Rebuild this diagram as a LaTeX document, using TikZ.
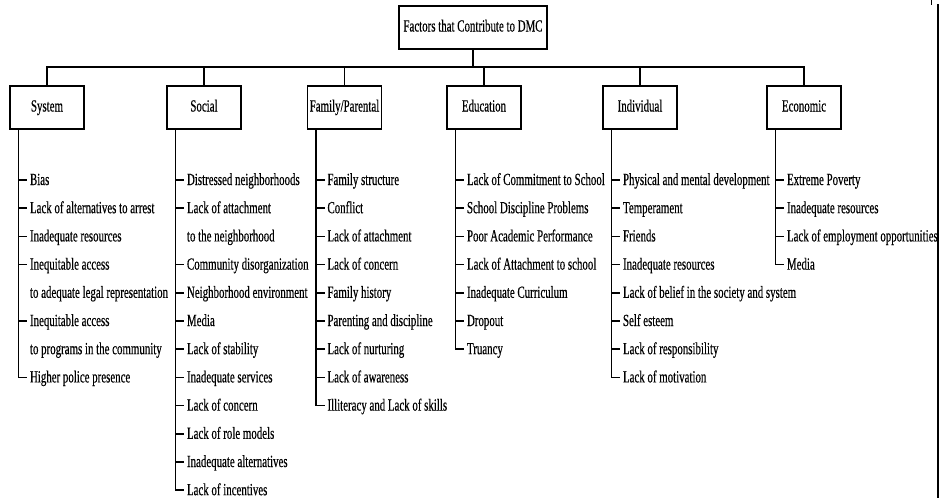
\documentclass[tikz,border=0pt]{standalone}
\usepackage{fontspec}
\setmainfont{Liberation Serif}[FakeStretch=0.64,FakeBold=0.4]
\begin{document}
\begin{tikzpicture}[x=1pt,y=-1pt,line width=1.5pt,
  catbox/.style={draw,rectangle,minimum width=74pt,minimum height=43pt,inner sep=0pt,
    text height=11.5pt,text depth=3.5pt,font=\fontsize{17}{20}\selectfont},
  itemtext/.style={anchor=base west,inner sep=0pt,font=\fontsize{17}{20}\selectfont}]
\useasboundingbox (0,0) rectangle (940,498);
\clip (0,0) rectangle (940,498);
% root
\node[catbox,minimum width=148pt] (root) at (473,27.5) {Factors that Contribute to DMC};
% categories
\node[catbox] (sys) at (47,107.5) {System};
\node[catbox] (soc) at (204,107.5) {Social};
\node[catbox] (fam) at (344.5,107.5) {Family/Parental};
\node[catbox] (edu) at (484,107.5) {Education};
\node[catbox] (ind) at (640,107.5) {Individual};
\node[catbox] (eco) at (804,107.5) {Economic};
% bus
\coordinate (bus) at (473,67);
\draw (root.south) -- (bus);
\draw (sys.north) -- (sys.north |- bus) -- (eco.north |- bus) -- (eco.north);
\foreach \b in {soc,fam,edu,ind} \draw (\b.north) -- (\b.north |- bus);
% lists
\def\rowsep{28.2}
\newcommand{\mylist}[3]{%
  \foreach \t/\k [count=\i] in {#3} {
    \coordinate (#1-t\i) at ([xshift=9pt]#1.south west |- 0,{180+(\i-1)*\rowsep});
    \node[itemtext] (#1-\i) at ([xshift=11pt,yshift=-5pt]#1-t\i) {\t};
    \ifnum\k=1 \draw (#1-t\i) -- ++(9,0);\fi
  }%
  \draw ([xshift=9pt]#1.south west) -- (#1-t#2) -- ++(9,0);
}
\mylist{sys}{8}{Bias/1,Lack of alternatives to arrest/1,Inadequate resources/1,Inequitable access/1,to adequate legal representation/0,Inequitable access/1,to programs in the community/0,Higher police presence/1}
\mylist{soc}{12}{Distressed neighborhoods/1,Lack of attachment/1,to the neighborhood/0,Community disorganization/1,Neighborhood environment/1,Media/1,Lack of stability/1,Inadequate services/1,Lack of concern/1,Lack of role models/1,Inadequate alternatives/1,Lack of incentives/1}
\mylist{fam}{9}{Family structure/1,Conflict/1,Lack of attachment/1,Lack of concern/1,Family history/1,Parenting and discipline/1,Lack of nurturing/1,Lack of awareness/1,Illiteracy and Lack of skills/1}
\mylist{edu}{7}{Lack of Commitment to School/1,School Discipline Problems/1,Poor Academic Performance/1,Lack of Attachment to school/1,Inadequate Curriculum/1,Dropout/1,Truancy/1}
\mylist{ind}{8}{Physical and mental development/1,Temperament/1,Friends/1,Inadequate resources/1,Lack of belief in the society and system/1,Self esteem/1,Lack of responsibility/1,Lack of motivation/1}
\mylist{eco}{4}{Extreme Poverty/1,Inadequate resources/1,Lack of employment opportunities/1,Media/1}
% right border
\draw[line width=2pt] (938,4) -- (938,498);
\draw[line width=1pt] (931,0) -- (931,5);
\end{tikzpicture}
\end{document}
